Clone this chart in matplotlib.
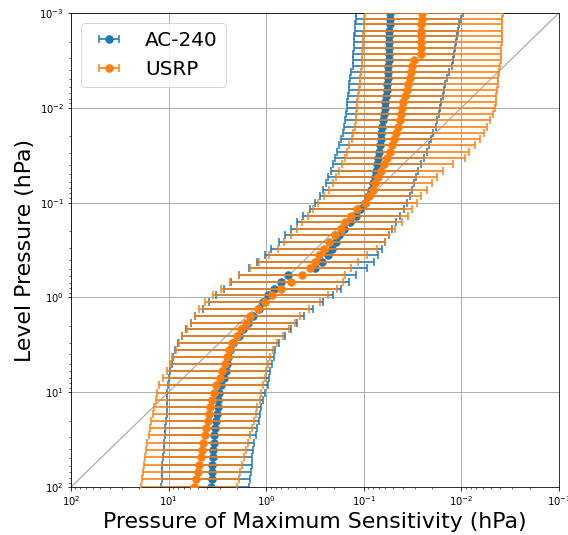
import numpy as np
import matplotlib
matplotlib.use('Agg')
import matplotlib.pyplot as plt

# pressure levels (hPa)
levels = [0.00100, 0.00115, 0.00132, 0.00153, 0.00176, 0.00203, 0.00234, 0.00270, 0.00312, 0.00361,
          0.00417, 0.00483, 0.00559, 0.00648, 0.00751, 0.00871, 0.0101, 0.0117, 0.0136, 0.0158,
          0.0184, 0.0214, 0.0249, 0.0290, 0.0338, 0.0394, 0.0460, 0.0537, 0.0627, 0.0732,
          0.0857, 0.100, 0.117, 0.137, 0.161, 0.189, 0.221, 0.260, 0.305, 0.358,
          0.421, 0.495, 0.582, 0.686, 0.808, 0.952, 1.12, 1.32, 1.56, 1.85,
          2.18, 2.58, 3.05, 3.62, 4.28, 5.08, 6.02, 7.14, 8.48, 10.1,
          12.0, 14.2, 16.9, 20.1, 24.0, 28.6, 34.1, 40.6, 48.5, 57.9,
          69.2, 82.7, 98.9]

# AC-240: pressure of max sensitivity and the ends of its bar
ac240_peak = [0.0543, 0.0543, 0.0543, 0.0547, 0.0550, 0.0551, 0.0553, 0.0555, 0.0556, 0.0562,
              0.0566, 0.0570, 0.0575, 0.0583, 0.0592, 0.0600, 0.0611, 0.0621, 0.0633, 0.0646,
              0.0658, 0.0671, 0.0687, 0.0702, 0.0716, 0.0732, 0.0749, 0.0766, 0.0801, 0.0851,
              0.0903, 0.0970, 0.108, 0.121, 0.138, 0.159, 0.178, 0.194, 0.210, 0.235,
              0.265, 0.313, 0.592, 0.710, 0.836, 0.964, 1.09, 1.19, 1.37, 1.54,
              1.73, 1.91, 2.17, 2.33, 2.44, 2.50, 2.57, 2.72, 2.87, 3.02,
              3.08, 3.15, 3.22, 3.27, 3.32, 3.39, 3.44, 3.48, 3.54, 3.57,
              3.59, 3.62, 3.65]
ac240_hi = [0.121, 0.121, 0.123, 0.124, 0.125, 0.126, 0.127, 0.128, 0.129, 0.130,
            0.135, 0.139, 0.141, 0.143, 0.145, 0.147, 0.150, 0.153, 0.156, 0.160,
            0.165, 0.171, 0.179, 0.188, 0.196, 0.206, 0.215, 0.230, 0.244, 0.262,
            0.284, 0.318, 0.356, 0.420, 0.484, 0.557, 0.635, 0.732, 0.885, 1.04,
            1.23, 1.51, 1.91, 2.28, 2.69, 3.28, 3.83, 4.46, 5.33, 5.93,
            6.60, 7.34, 8.07, 8.56, 8.91, 9.23, 9.75, 9.93, 10.1, 10.3,
            10.3, 10.4, 10.5, 10.6, 10.8, 11.0, 11.1, 11.2, 11.4, 11.6,
            11.7, 11.8, 11.9]
ac240_lo = [0.00955, 0.0100, 0.0105, 0.0108, 0.0110, 0.0113, 0.0116, 0.0120, 0.0123, 0.0126,
            0.0135, 0.0141, 0.0147, 0.0151, 0.0155, 0.0160, 0.0165, 0.0171, 0.0177, 0.0183,
            0.0193, 0.0203, 0.0214, 0.0226, 0.0243, 0.0259, 0.0275, 0.0292, 0.0308, 0.0323,
            0.0339, 0.0364, 0.0390, 0.0424, 0.0466, 0.0514, 0.0556, 0.0603, 0.0653, 0.0718,
            0.0793, 0.0923, 0.119, 0.142, 0.172, 0.208, 0.259, 0.332, 0.406, 0.484,
            0.559, 0.643, 0.731, 0.805, 0.838, 0.874, 0.905, 0.936, 0.968, 1.02,
            1.09, 1.12, 1.15, 1.19, 1.23, 1.27, 1.32, 1.38, 1.40, 1.41,
            1.44, 1.46, 1.49]

# USRP
usrp_peak = [0.0255, 0.0255, 0.0257, 0.0258, 0.0258, 0.0259, 0.0260, 0.0261, 0.0308, 0.0317,
             0.0326, 0.0336, 0.0348, 0.0364, 0.0380, 0.0393, 0.0403, 0.0414, 0.0425, 0.0441,
             0.0464, 0.0488, 0.0512, 0.0543, 0.0581, 0.0622, 0.0668, 0.0711, 0.0760, 0.0811,
             0.0887, 0.0977, 0.116, 0.136, 0.155, 0.173, 0.197, 0.225, 0.256, 0.288,
             0.318, 0.359, 0.427, 0.560, 0.708, 0.871, 1.02, 1.22, 1.45, 1.60,
             1.79, 1.98, 2.22, 2.39, 2.50, 2.67, 2.84, 2.99, 3.23, 3.44,
             3.61, 3.72, 3.86, 3.98, 4.13, 4.27, 4.42, 4.54, 4.68, 4.85,
             5.05, 5.23, 5.43]
usrp_hi = [0.0982, 0.0987, 0.0994, 0.100, 0.101, 0.102, 0.102, 0.103, 0.104, 0.105,
           0.107, 0.108, 0.110, 0.112, 0.114, 0.116, 0.118, 0.119, 0.121, 0.124,
           0.128, 0.133, 0.141, 0.147, 0.155, 0.166, 0.179, 0.192, 0.209, 0.229,
           0.256, 0.296, 0.331, 0.376, 0.427, 0.484, 0.556, 0.658, 0.764, 0.927,
           1.19, 1.47, 1.88, 2.37, 2.90, 3.52, 4.21, 4.85, 5.39, 5.89,
           6.55, 7.21, 7.81, 8.35, 9.12, 9.63, 10.3, 11.5, 12.4, 13.0,
           13.3, 14.0, 14.5, 15.0, 15.4, 16.0, 16.5, 16.9, 17.4, 17.9,
           18.4, 18.8, 19.3]
usrp_lo = [0.00376, 0.00380, 0.00383, 0.00385, 0.00385, 0.00385, 0.00388, 0.00392, 0.00396, 0.00402,
           0.00411, 0.00420, 0.00425, 0.00430, 0.00438, 0.00446, 0.00457, 0.00476, 0.00505, 0.00542,
           0.00589, 0.00647, 0.00720, 0.00829, 0.00923, 0.0123, 0.0155, 0.0179, 0.0201, 0.0227,
           0.0256, 0.0287, 0.0318, 0.0348, 0.0404, 0.0483, 0.0552, 0.0605, 0.0729, 0.0924,
           0.115, 0.135, 0.157, 0.165, 0.190, 0.230, 0.284, 0.365, 0.446, 0.507,
           0.586, 0.674, 0.767, 0.853, 0.916, 0.966, 1.00, 1.04, 1.08, 1.12,
           1.17, 1.23, 1.28, 1.34, 1.40, 1.47, 1.53, 1.60, 1.67, 1.75,
           1.84, 1.92, 2.00]

lims = [1e2, 1e-3]

def asym_err(peak, lo, hi):
    '''xerr rows: distance to smaller and to larger pressure end'''
    peak, lo, hi = np.array(peak), np.array(lo), np.array(hi)
    return np.vstack([peak - lo, hi - peak])

fig = plt.figure(figsize=(568/72, 535/72), dpi=72)
ax = fig.add_axes([0.125, 0.0897, 0.859, 0.8860])

ax.plot(lims, lims, color='darkgray', lw=1.2, zorder=1)
style = dict(fmt='o', ms=7.5, elinewidth=1.6, capsize=4, capthick=1.5)
ax.errorbar(ac240_peak, levels, xerr=asym_err(ac240_peak, ac240_lo, ac240_hi),
            label='AC-240', zorder=2, **style)
ax.errorbar(usrp_peak, levels, xerr=asym_err(usrp_peak, usrp_lo, usrp_hi),
            label='USRP', zorder=3, **style)

ax.set_xscale('log')
ax.set_yscale('log')
ax.set_xlim(lims)
ax.set_ylim(lims)
ax.grid(True, which='major', lw=1)
ax.set_axisbelow(True)
ax.set_xlabel('Pressure of Maximum Sensitivity (hPa)', fontsize=22)
ax.set_ylabel('Level Pressure (hPa)', fontsize=22)
ax.legend(loc='upper left', fontsize=20)

fig.savefig('out.png', dpi=72)
